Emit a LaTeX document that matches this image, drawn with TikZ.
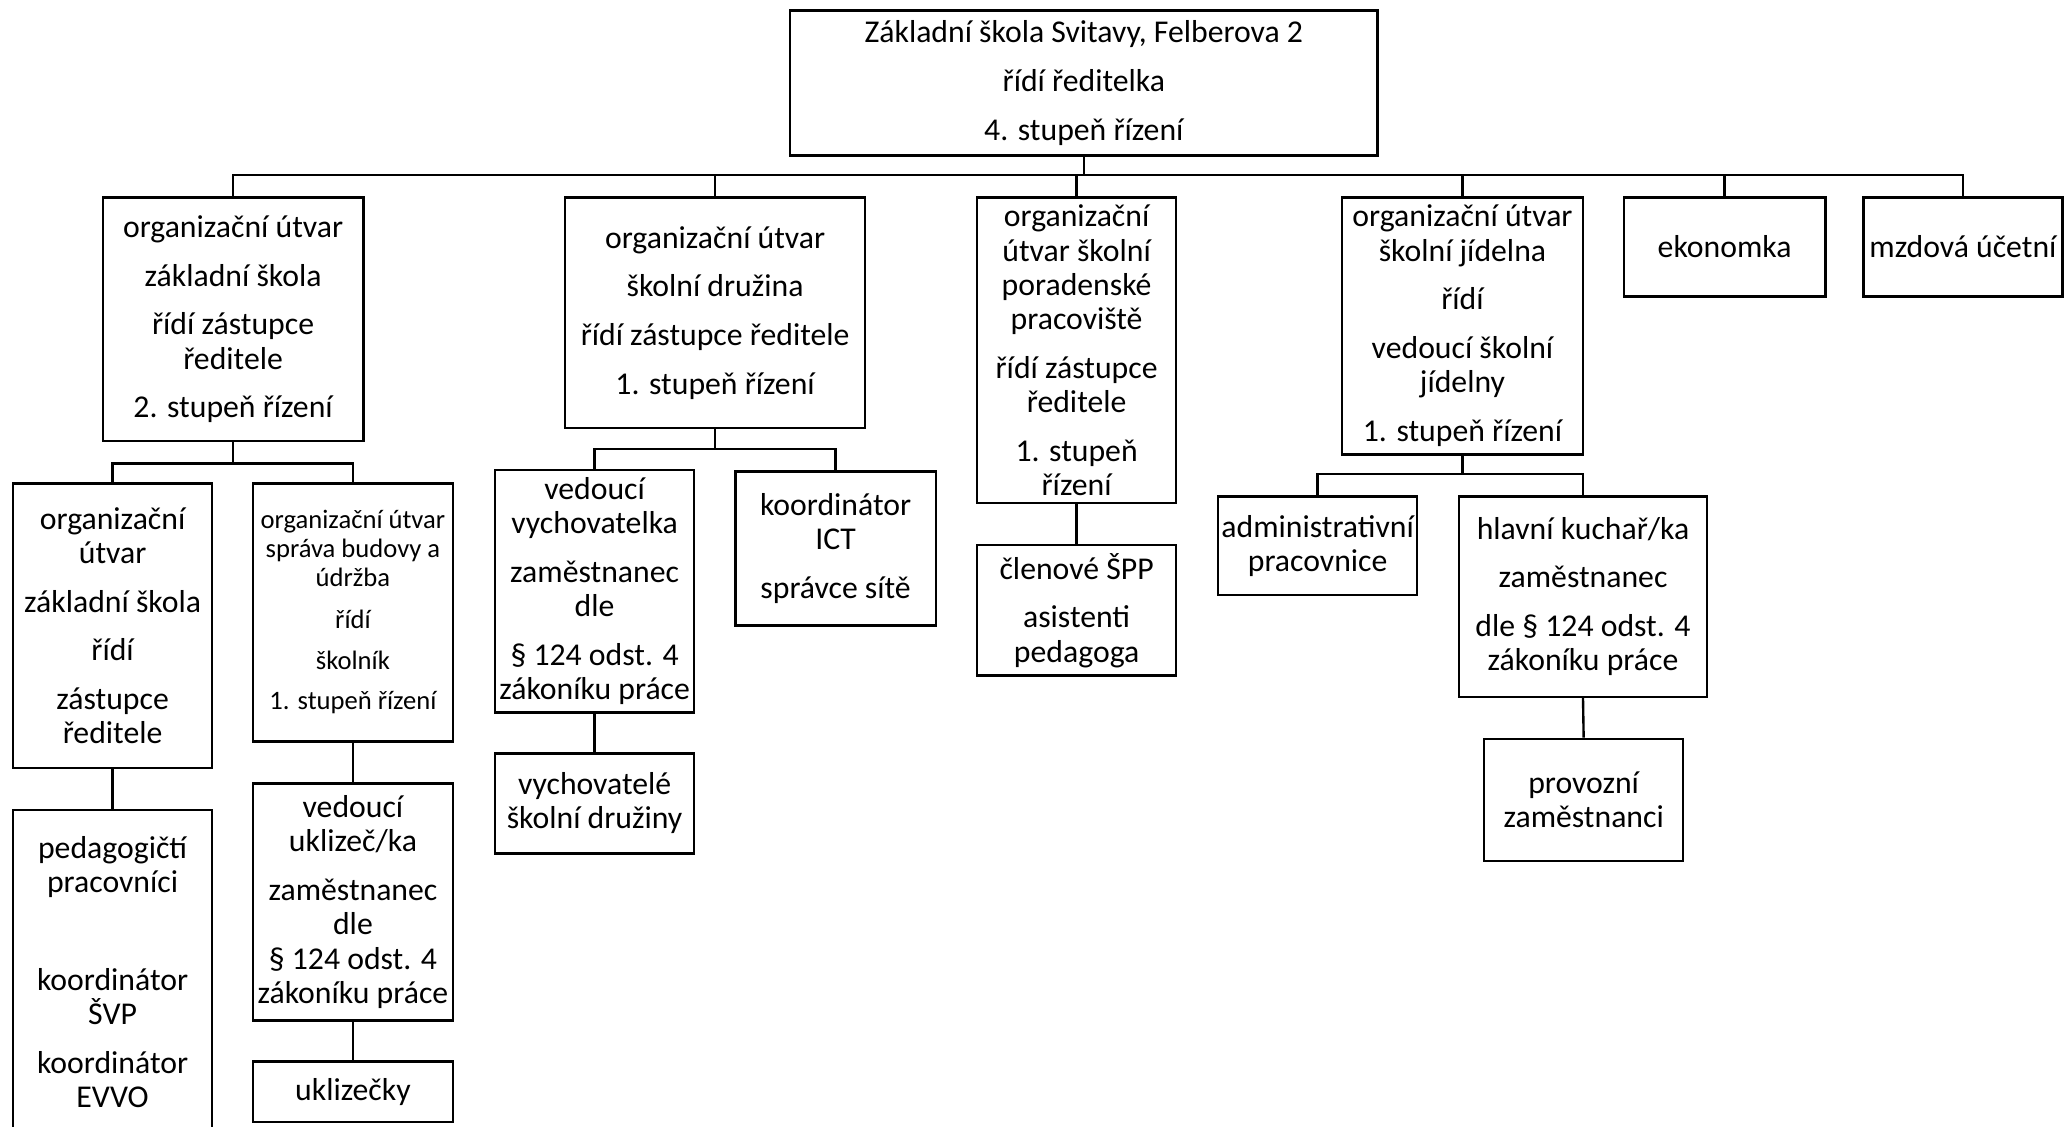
\documentclass[tikz,border=0pt]{standalone}
\usepackage{fontspec}
\setmainfont{Carlito}
\begin{document}
\begin{tikzpicture}[x=1pt,y=-1pt,
  box/.style={draw, line width=1.8pt, inner sep=0pt, align=center, font=\fontsize{24.1}{26}\selectfont},
  smallbox/.style={box, font=\fontsize{20.2}{22}\selectfont},
  wire/.style={line width=1.8pt}]
\clip (0,0) rectangle (1568,855);
\fill[white] (0,0) rectangle (1568,855);
\coordinate (bus) at (0,133);
\coordinate (ja) at (0,352);
\coordinate (jb) at (0,341);
\coordinate (jd) at (0,360);

\node[box, minimum width=446pt, minimum height=110pt] (top) at (823,63)
  {Základní škola Svitavy, Felberova 2\\[11pt]řídí ředitelka\\[11pt]4. stupeň řízení};

\node[box, minimum width=198pt, minimum height=185pt] (A) at (177,242.5)
  {organizační útvar\\[11pt]základní škola\\[11pt]řídí zástupce\\ředitele\\[11pt]2. stupeň řízení};
\node[box, minimum width=228pt, minimum height=175pt] (B) at (543,237.5)
  {organizační útvar\\[11pt]školní družina\\[11pt]řídí zástupce ředitele\\[11pt]1. stupeň řízení};
\node[box, minimum width=151pt, minimum height=232pt] (C) at (817.5,266)
  {organizační\\útvar školní\\poradenské\\pracoviště\\[11pt]řídí zástupce\\ředitele\\[11pt]1. stupeň\\řízení};
\node[box, minimum width=183pt, minimum height=195pt] (D) at (1110.5,247.5)
  {organizační útvar\\školní jídelna\\[11pt]řídí\\[11pt]vedoucí školní\\jídelny\\[11pt]1. stupeň řízení};
\node[box, minimum width=153pt, minimum height=75pt] (E) at (1309.5,187.5) {ekonomka};
\node[box, minimum width=151pt, minimum height=75pt] (F) at (1490.5,187.5) {mzdová účetní};

\node[box, minimum width=151pt, minimum height=216pt] (A1) at (85.5,475)
  {organizační\\útvar\\[11pt]základní škola\\[11pt]řídí\\[11pt]zástupce\\ředitele};
\node[smallbox, minimum width=152pt, minimum height=196pt] (A2) at (268,465)
  {organizační útvar\\správa budovy a\\údržba\\[9.5pt]řídí\\[9pt]školník\\[9pt]1. stupeň řízení};
\node[box, minimum width=151pt, minimum height=246pt] (A3) at (85.5,738)
  {pedagogičtí\\pracovníci\\[11pt]\mbox{}\\[11pt]koordinátor\\ŠVP\\[11pt]koordinátor\\EVVO};
\node[box, minimum width=152pt, minimum height=180pt] (A4) at (268,685)
  {vedoucí\\uklizeč/ka\\[11pt]zaměstnanec\\dle\\§ 124 odst. 4\\zákoníku práce};
\node[box, minimum width=152pt, minimum height=46pt] (A5) at (268,829) {uklizečky};

\node[box, minimum width=151pt, minimum height=184pt] (B1) at (451.5,449)
  {vedoucí\\vychovatelka\\[11pt]zaměstnanec\\dle\\[11pt]§ 124 odst. 4\\zákoníku práce};
\node[box, minimum width=152pt, minimum height=117pt] (B2) at (634.5,416.5)
  {koordinátor\\ICT\\[11pt]správce sítě};
\node[box, minimum width=151pt, minimum height=76pt] (B3) at (451.5,610)
  {vychovatelé\\školní družiny};

\node[box, minimum width=151pt, minimum height=99pt] (C1) at (817.5,463.5)
  {členové ŠPP\\[11pt]asistenti\\pedagoga};

\node[box, minimum width=151pt, minimum height=75pt] (D1) at (1000.5,414.5)
  {administrativní\\pracovnice};
\node[box, minimum width=188pt, minimum height=152pt] (D2) at (1202,453)
  {hlavní kuchař/ka\\[11pt]zaměstnanec\\[11pt]dle § 124 odst. 4\\zákoníku práce};
\node[box, minimum width=151pt, minimum height=93pt] (D3) at (1202.5,607.5)
  {provozní\\zaměstnanci};

% connectors
\draw[wire] (top.south) -- (top.south|-bus);
\draw[wire] (A.north) |- (F.north|-bus) -- (F.north);
\foreach \n in {B,C,D,E} \draw[wire] (\n.north) -- (\n.north|-bus);

\draw[wire] (A.south) -- (A.south|-ja);
\draw[wire] (A1.north) |- (A2.north|-ja) -- (A2.north);
\draw[wire] (A1.south) -- (A3.north);
\draw[wire] (A2.south) -- (A4.north);
\draw[wire] (A4.south) -- (A5.north);

\draw[wire] (B.south) -- (B.south|-jb);
\draw[wire] (B1.north) |- (B2.north|-jb) -- (B2.north);
\draw[wire] (B1.south) -- (B3.north);

\draw[wire] (C.south) -- (C1.north);

\draw[wire] (D.south) -- (D.south|-jd);
\draw[wire] (D1.north) |- (D2.north|-jd) -- (D2.north);
\draw[wire] (D2.south) -- (D3.north);
\end{tikzpicture}
\end{document}
